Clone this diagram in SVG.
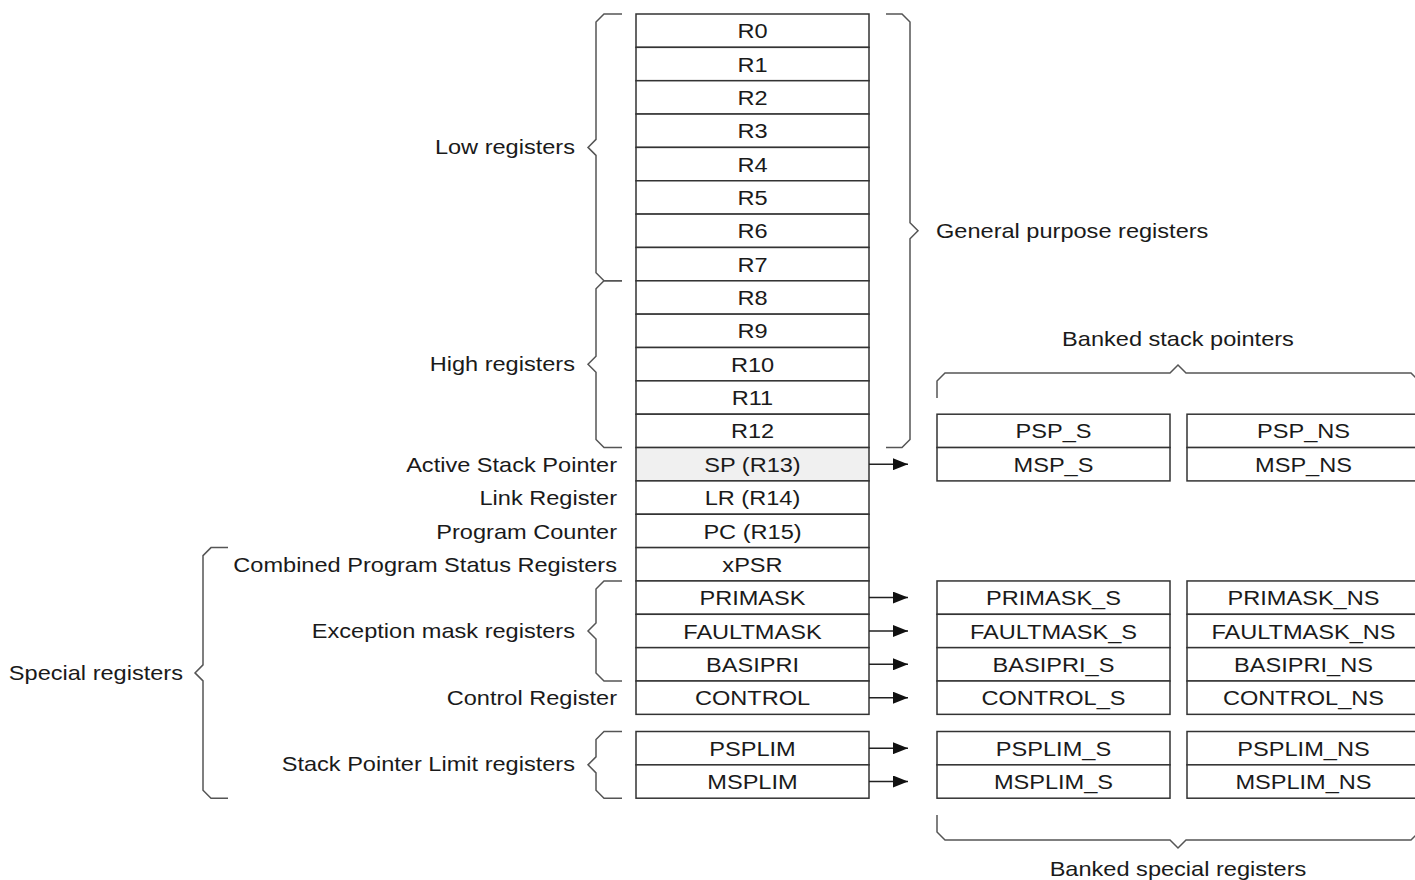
<svg xmlns="http://www.w3.org/2000/svg" width="1415" height="880" viewBox="0 0 1415 880">
<defs>
<style>
text{font-family:"Liberation Sans",Arial,sans-serif;font-size:20.5px;fill:#1a1a1a;transform-box:fill-box;transform:scaleX(1.15)}
.m{text-anchor:middle;transform-origin:center}
.e{text-anchor:end;transform-origin:right center}
.s{text-anchor:start;transform-origin:left center}
.reg{fill:#fff;stroke:#333;stroke-width:1.5}
.sp{fill:#f0f0f0;stroke:#333;stroke-width:1.5}
.br{fill:none;stroke:#555;stroke-width:1.5}
.ar{stroke:#222;stroke-width:1.5;fill:none}
</style>
<marker id="ah" viewBox="0 0 15 12" refX="15" refY="6" markerWidth="15" markerHeight="12" markerUnits="userSpaceOnUse" orient="auto">
<path d="M0,0 L15,6 L0,12 Z" fill="#111"/>
</marker>
</defs>
<rect width="1415" height="880" fill="#fff"/>

<!-- main register column -->
<g id="R0"><rect class="reg" x="636" y="14" width="233" height="33.35"/><text class="m" x="752.5" y="38.3">R0</text></g>
<g id="R1"><rect class="reg" x="636" y="47.35" width="233" height="33.35"/><text class="m" x="752.5" y="71.65">R1</text></g>
<g id="R2"><rect class="reg" x="636" y="80.7" width="233" height="33.35"/><text class="m" x="752.5" y="105">R2</text></g>
<g id="R3"><rect class="reg" x="636" y="114.05" width="233" height="33.35"/><text class="m" x="752.5" y="138.35">R3</text></g>
<g id="R4"><rect class="reg" x="636" y="147.4" width="233" height="33.35"/><text class="m" x="752.5" y="171.7">R4</text></g>
<g id="R5"><rect class="reg" x="636" y="180.75" width="233" height="33.35"/><text class="m" x="752.5" y="205.05">R5</text></g>
<g id="R6"><rect class="reg" x="636" y="214.1" width="233" height="33.35"/><text class="m" x="752.5" y="238.4">R6</text></g>
<g id="R7"><rect class="reg" x="636" y="247.45" width="233" height="33.35"/><text class="m" x="752.5" y="271.75">R7</text></g>
<g id="R8"><rect class="reg" x="636" y="280.8" width="233" height="33.35"/><text class="m" x="752.5" y="305.1">R8</text></g>
<g id="R9"><rect class="reg" x="636" y="314.15" width="233" height="33.35"/><text class="m" x="752.5" y="338.45">R9</text></g>
<g id="R10"><rect class="reg" x="636" y="347.5" width="233" height="33.35"/><text class="m" x="752.5" y="371.8">R10</text></g>
<g id="R11"><rect class="reg" x="636" y="380.85" width="233" height="33.35"/><text class="m" x="752.5" y="405.15">R11</text></g>
<g id="R12"><rect class="reg" x="636" y="414.2" width="233" height="33.35"/><text class="m" x="752.5" y="438.5">R12</text></g>
<g id="SP"><rect class="sp" x="636" y="447.55" width="233" height="33.35"/><text class="m" x="752.5" y="471.85">SP (R13)</text></g>
<g id="LR"><rect class="reg" x="636" y="480.9" width="233" height="33.35"/><text class="m" x="752.5" y="505.2">LR (R14)</text></g>
<g id="PC"><rect class="reg" x="636" y="514.25" width="233" height="33.35"/><text class="m" x="752.5" y="538.55">PC (R15)</text></g>
<g id="xPSR"><rect class="reg" x="636" y="547.6" width="233" height="33.35"/><text class="m" x="752.5" y="571.9">xPSR</text></g>
<g id="PRIMASK"><rect class="reg" x="636" y="580.95" width="233" height="33.35"/><text class="m" x="752.5" y="605.25">PRIMASK</text></g>
<g id="FAULTMASK"><rect class="reg" x="636" y="614.3" width="233" height="33.35"/><text class="m" x="752.5" y="638.6">FAULTMASK</text></g>
<g id="BASIPRI"><rect class="reg" x="636" y="647.65" width="233" height="33.35"/><text class="m" x="752.5" y="671.95">BASIPRI</text></g>
<g id="CONTROL"><rect class="reg" x="636" y="681" width="233" height="33.35"/><text class="m" x="752.5" y="705.3">CONTROL</text></g>
<g id="PSPLIM"><rect class="reg" x="636" y="731.5" width="233" height="33.35"/><text class="m" x="752.5" y="755.8">PSPLIM</text></g>
<g id="MSPLIM"><rect class="reg" x="636" y="764.85" width="233" height="33.35"/><text class="m" x="752.5" y="789.15">MSPLIM</text></g>

<!-- banked stack pointers -->
<g id="PSP_S"><rect class="reg" x="937" y="414.2" width="233" height="33.35"/><text class="m" x="1053.5" y="438.5">PSP_S</text></g>
<g id="MSP_S"><rect class="reg" x="937" y="447.55" width="233" height="33.35"/><text class="m" x="1053.5" y="471.85">MSP_S</text></g>
<g id="PSP_NS"><rect class="reg" x="1187" y="414.2" width="233" height="33.35"/><text class="m" x="1303.5" y="438.5">PSP_NS</text></g>
<g id="MSP_NS"><rect class="reg" x="1187" y="447.55" width="233" height="33.35"/><text class="m" x="1303.5" y="471.85">MSP_NS</text></g>

<!-- banked special registers -->
<g id="PRIMASK_S"><rect class="reg" x="937" y="580.95" width="233" height="33.35"/><text class="m" x="1053.5" y="605.25">PRIMASK_S</text></g>
<g id="FAULTMASK_S"><rect class="reg" x="937" y="614.3" width="233" height="33.35"/><text class="m" x="1053.5" y="638.6">FAULTMASK_S</text></g>
<g id="BASIPRI_S"><rect class="reg" x="937" y="647.65" width="233" height="33.35"/><text class="m" x="1053.5" y="671.95">BASIPRI_S</text></g>
<g id="CONTROL_S"><rect class="reg" x="937" y="681" width="233" height="33.35"/><text class="m" x="1053.5" y="705.3">CONTROL_S</text></g>
<g id="PRIMASK_NS"><rect class="reg" x="1187" y="580.95" width="233" height="33.35"/><text class="m" x="1303.5" y="605.25">PRIMASK_NS</text></g>
<g id="FAULTMASK_NS"><rect class="reg" x="1187" y="614.3" width="233" height="33.35"/><text class="m" x="1303.5" y="638.6">FAULTMASK_NS</text></g>
<g id="BASIPRI_NS"><rect class="reg" x="1187" y="647.65" width="233" height="33.35"/><text class="m" x="1303.5" y="671.95">BASIPRI_NS</text></g>
<g id="CONTROL_NS"><rect class="reg" x="1187" y="681" width="233" height="33.35"/><text class="m" x="1303.5" y="705.3">CONTROL_NS</text></g>
<g id="PSPLIM_S"><rect class="reg" x="937" y="731.5" width="233" height="33.35"/><text class="m" x="1053.5" y="755.8">PSPLIM_S</text></g>
<g id="MSPLIM_S"><rect class="reg" x="937" y="764.85" width="233" height="33.35"/><text class="m" x="1053.5" y="789.15">MSPLIM_S</text></g>
<g id="PSPLIM_NS"><rect class="reg" x="1187" y="731.5" width="233" height="33.35"/><text class="m" x="1303.5" y="755.8">PSPLIM_NS</text></g>
<g id="MSPLIM_NS"><rect class="reg" x="1187" y="764.85" width="233" height="33.35"/><text class="m" x="1303.5" y="789.15">MSPLIM_NS</text></g>

<!-- connectors -->
<g id="connectors">
<line class="ar" x1="869" y1="464.2" x2="908" y2="464.2" marker-end="url(#ah)"/>
<line class="ar" x1="869" y1="597.6" x2="908" y2="597.6" marker-end="url(#ah)"/>
<line class="ar" x1="869" y1="631" x2="908" y2="631" marker-end="url(#ah)"/>
<line class="ar" x1="869" y1="664.3" x2="908" y2="664.3" marker-end="url(#ah)"/>
<line class="ar" x1="869" y1="697.7" x2="908" y2="697.7" marker-end="url(#ah)"/>
<line class="ar" x1="869" y1="748.2" x2="908" y2="748.2" marker-end="url(#ah)"/>
<line class="ar" x1="869" y1="781.5" x2="908" y2="781.5" marker-end="url(#ah)"/>
</g>

<!-- braces and group labels -->
<g id="low-registers">
<path class="br" d="M622,14 H604 L596,22 V139.4 L588,147.4 L596,155.4 V272.8 L604,280.8 H622"/>
<text class="e" x="575" y="154">Low registers</text>
</g>
<g id="high-registers">
<path class="br" d="M622,280.8 H604 L596,288.8 V356.2 L588,364.2 L596,372.2 V439.5 L604,447.55 H622"/>
<text class="e" x="575" y="371">High registers</text>
</g>
<g id="general-purpose">
<path class="br" d="M886,14 H902 L910,22 V222.8 L918,230.8 L910,238.8 V439.5 L902,447.55 H886"/>
<text class="s" x="936" y="238">General purpose registers</text>
</g>
<g id="banked-stack-pointers">
<path class="br" d="M937,398 V381 L945,373 H1170 L1178,365 L1186,373 H1411 L1419,381 V398"/>
<text class="m" x="1178" y="346">Banked stack pointers</text>
</g>
<g id="single-labels">
<text class="e" x="617" y="471.85">Active Stack Pointer</text>
<text class="e" x="617" y="505.2">Link Register</text>
<text class="e" x="617" y="538.55">Program Counter</text>
<text class="e" x="617" y="571.9">Combined Program Status Registers</text>
<text class="e" x="617" y="705.3">Control Register</text>
</g>
<g id="exception-mask">
<path class="br" d="M622,580.95 H604 L596,588.95 V623 L588,631 L596,639 V673 L604,681 H622"/>
<text class="e" x="575" y="638">Exception mask registers</text>
</g>
<g id="stack-pointer-limit">
<path class="br" d="M622,731.5 H604 L596,739.5 V756.85 L588,764.85 L596,772.85 V790.2 L604,798.2 H622"/>
<text class="e" x="575" y="771.5">Stack Pointer Limit registers</text>
</g>
<g id="special-registers">
<path class="br" d="M228,547.6 H211 L203,555.6 V664.9 L195,672.9 L203,680.9 V790.2 L211,798.2 H228"/>
<text class="e" x="183" y="680">Special registers</text>
</g>
<g id="banked-special">
<path class="br" d="M937,815 V832 L945,840 H1170 L1178,848 L1186,840 H1411 L1419,832 V815"/>
<text class="m" x="1178" y="876">Banked special registers</text>
</g>
</svg>
